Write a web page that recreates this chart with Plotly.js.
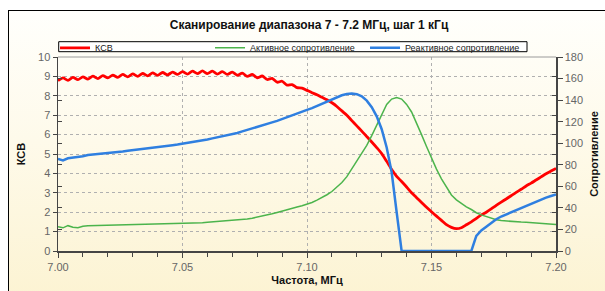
<!DOCTYPE html>
<html>
<head>
<meta charset="utf-8">
<script src="https://cdn.plot.ly/plotly-3.0.1.min.js"></script>
<style>
html,body{margin:0;padding:0;}
body{width:605px;height:291px;overflow:hidden;background:#fff;position:relative;}
#bg{position:absolute;left:8px;top:10px;width:700px;height:290px;border-left:1px solid #000;border-top:1px solid #000;background:linear-gradient(to bottom,#fffffc 0%,#fefaea 45%,#fcf3d2 100%);}
#chart{position:absolute;left:0;top:0;width:605px;height:291px;}
</style>
</head>
<body>
<div id="bg"></div>
<div id="chart"></div>
<script>
// Frequency grid, MHz
const freq = [
7.000,7.002,7.004,7.006,7.008,7.010,7.012,7.014,7.016,7.018,
7.020,7.022,7.024,7.026,7.028,7.030,7.032,7.034,7.036,7.038,
7.040,7.042,7.044,7.046,7.048,7.050,7.052,7.054,7.056,7.058,
7.060,7.062,7.064,7.066,7.068,7.070,7.072,7.074,7.076,7.078,
7.080,7.082,7.084,7.086,7.088,7.090,7.092,7.094,7.096,7.098,
7.100,7.102,7.104,7.106,7.108,7.110,7.112,7.114,7.116,7.118,
7.120,7.122,7.124,7.126,7.128,7.130,7.132,7.134,7.136,7.138,
7.140,7.142,7.144,7.146,7.148,7.150,7.152,7.154,7.156,7.158,
7.160,7.162,7.164,7.166,7.168,7.170,7.172,7.174,7.176,7.178,
7.180,7.182,7.184,7.186,7.188,7.190,7.192,7.194,7.196,7.198,
7.200];

// КСВ (left axis)
const ksv = [
8.78,8.92,8.80,8.95,8.83,8.98,8.86,9.01,8.89,9.04,
8.92,9.07,8.95,9.10,8.98,9.13,9.00,9.15,9.03,9.18,
9.05,9.20,9.08,9.22,9.10,9.25,9.12,9.27,9.14,9.28,
9.14,9.27,9.12,9.25,9.10,9.22,9.06,9.17,9.00,9.10,
8.93,9.02,8.84,8.90,8.70,8.75,8.55,8.58,8.42,8.40,
8.28,8.16,8.05,7.92,7.80,7.64,7.45,7.22,7.00,6.72,
6.45,6.18,5.90,5.62,5.33,5.02,4.62,4.20,3.85,3.58,
3.30,3.00,2.75,2.50,2.25,2.02,1.80,1.58,1.36,1.22,
1.15,1.20,1.35,1.50,1.68,1.86,2.00,2.17,2.35,2.52,
2.68,2.85,3.02,3.18,3.35,3.50,3.66,3.82,3.98,4.12,
4.26];

// Активное сопротивление (right axis)
const activeR = [
22.5,21.5,23.5,22.0,21.5,23.0,23.5,23.6,23.8,23.9,
24.0,24.1,24.2,24.3,24.3,24.4,24.5,24.6,24.6,24.7,
24.8,24.9,25.0,25.1,25.2,25.4,25.6,25.8,26.0,26.3,
26.6,26.9,27.2,27.5,27.9,28.3,28.7,29.1,29.6,30.4,
31.3,32.3,33.4,34.6,35.8,37.2,38.4,39.6,40.8,42.0,
43.2,45.0,47.2,49.6,52.2,55.2,59.0,63.5,69.0,76.0,
83.0,90.0,98.0,107.0,117.0,127.0,136.0,141.0,142.5,141.0,
136.0,129.0,119.0,108.0,97.0,86.0,76.0,67.0,59.0,52.0,
47.5,44.0,41.0,38.5,35.5,33.5,31.8,30.2,29.0,28.2,
27.7,27.3,27.0,26.8,26.6,26.3,26.0,25.7,25.3,25.0,
24.7];

// Реактивное сопротивление (right axis)
const reactiveR = [
85.5,84.0,86.0,86.5,87.0,88.0,89.0,89.3,90.0,90.5,
91.0,91.3,91.8,92.3,93.0,93.5,94.2,94.6,95.0,95.6,
96.3,97.0,97.6,98.2,98.8,99.5,100.3,101.0,101.8,102.6,
103.5,104.5,105.5,106.5,107.3,108.2,109.5,111.0,112.5,114.0,
115.5,116.8,118.0,119.3,120.7,122.5,124.5,126.3,128.0,129.5,
131.0,132.5,134.5,137.0,139.0,141.0,143.0,144.5,145.7,146.2,
145.5,143.5,139.5,133.5,125.0,113.0,96.0,73.0,36.0,0,
0,0,0,0,0,0,0,0,0,0,
0,0,0,0,14.0,19.0,22.5,26.0,29.5,32.0,
34.0,35.8,37.5,39.5,41.5,43.5,45.5,47.3,49.5,51.0,
52.5];

const seriesNames = ['КСВ','Активное сопротивление','Реактивное сопротивление'];
const titleText = 'Сканирование диапазона 7 - 7.2 МГц, шаг 1 кГц';
const xTitle = 'Частота, МГц';
const yTitle = 'КСВ';
const y2Title = 'Сопротивление';

const FONT = 'Liberation Sans, Arial, sans-serif';
const axisCol = '#454545';
const tickFont = {family: FONT, size: 11, color: '#666'};

const traces = [
  {x: freq, y: activeR, yaxis: 'y2', type: 'scatter', mode: 'lines', name: seriesNames[1],
   line: {color: '#4cb44c', width: 1.5}, legendrank: 2, hoverinfo: 'skip'},
  {x: freq, y: reactiveR, yaxis: 'y2', type: 'scatter', mode: 'lines', name: seriesNames[2],
   line: {color: '#2f7fe0', width: 2.5}, legendrank: 3, hoverinfo: 'skip'},
  {x: freq, y: ksv, yaxis: 'y', type: 'scatter', mode: 'lines', name: seriesNames[0],
   line: {color: '#ff0000', width: 2.8, shape: 'spline', smoothing: 0.7}, legendrank: 1, hoverinfo: 'skip'},
  {x: [], y: [], yaxis: 'y3', showlegend: false, hoverinfo: 'skip'},
  {x: [], y: [], yaxis: 'y4', showlegend: false, hoverinfo: 'skip'}
];

const layout = {
  width: 605, height: 291, autosize: false,
  margin: {l: 58, r: 49, t: 57, b: 40, pad: 0},
  paper_bgcolor: 'rgba(0,0,0,0)', plot_bgcolor: 'rgba(0,0,0,0)',
  font: {family: FONT, size: 11, color: '#222'},
  title: {text: '<b>' + titleText + '</b>', font: {family: FONT, size: 12, color: '#111'},
          x: 309/605, xanchor: 'center', xref: 'container', y: 1 - 25/291, yanchor: 'middle', yref: 'container'},
  showlegend: true,
  legend: {orientation: 'h', x: -0.006, xanchor: 'left', y: 1.122, yanchor: 'top',
           bgcolor: 'rgba(0,0,0,0)', borderwidth: 0,
           font: {family: FONT, size: 9, color: '#222'},
           entrywidth: 110, entrywidthmode: 'pixels', itemwidth: 30, tracegroupgap: 0},
  xaxis: {range: [7, 7.2], tick0: 7, dtick: 0.05, tickformat: '.2f',
          ticks: 'outside', ticklen: 5, tickwidth: 1, tickcolor: axisCol,
          showline: true, linecolor: axisCol, linewidth: 1.5,
          showgrid: true, gridcolor: '#b0b0b0', griddash: 'dot', gridwidth: 1, zeroline: false,
          tickfont: tickFont, automargin: false,
          minor: {dtick: 0.01, ticks: 'outside', ticklen: 4, tickcolor: axisCol, showgrid: false},
          title: {text: '<b>' + xTitle + '</b>', font: {family: FONT, size: 11, color: '#111'}, standoff: 4}},
  yaxis: {range: [0, 10], dtick: 1, ticks: 'outside', ticklen: 4, tickwidth: 1, tickcolor: axisCol,
          showline: true, linecolor: axisCol, linewidth: 1.5,
          showgrid: true, gridcolor: '#b0b0b0', griddash: 'dot', gridwidth: 1, zeroline: false,
          tickfont: tickFont, automargin: false,
          title: {text: '<b>' + yTitle + '</b>', font: {family: FONT, size: 11, color: '#111'}, standoff: 10}},
  yaxis2: {overlaying: 'y', side: 'right', anchor: 'x', range: [0, 180], dtick: 20,
           ticks: 'outside', ticklen: 5, tickwidth: 1, tickcolor: axisCol,
           showline: true, linecolor: axisCol, linewidth: 1.5, showgrid: false, zeroline: false,
           tickfont: tickFont, automargin: false,
           title: {text: '<b>' + y2Title + '</b>', font: {family: FONT, size: 11, color: '#111'}, standoff: 8}},
  yaxis3: {overlaying: 'y', side: 'right', anchor: 'x', range: [0, 10], dtick: 1,
           ticks: 'inside', ticklen: 4, tickcolor: axisCol, showticklabels: false,
           showline: false, showgrid: false, zeroline: false},
  yaxis4: {overlaying: 'y', side: 'left', anchor: 'x', range: [0, 180], dtick: 20,
           ticks: 'inside', ticklen: 4, tickcolor: axisCol, showticklabels: false,
           showline: false, showgrid: false, zeroline: false},
  shapes: [
    {type: 'line', xref: 'paper', yref: 'paper', x0: 0, x1: 1, y0: 1, y1: 1,
     line: {color: '#9a9a9a', width: 1}},
    {type: 'rect', xref: 'paper', yref: 'paper', layer: 'below',
     x0: 0.0014, x1: (527 - 58) / 498, y0: (251 - 41.7) / 194, y1: (251 - 51.7) / 194,
     line: {color: '#000', width: 1}, fillcolor: '#ffffff'}
  ]
};

Plotly.newPlot('chart', traces, layout, {displayModeBar: false, staticPlot: true});
</script>
</body>
</html>
